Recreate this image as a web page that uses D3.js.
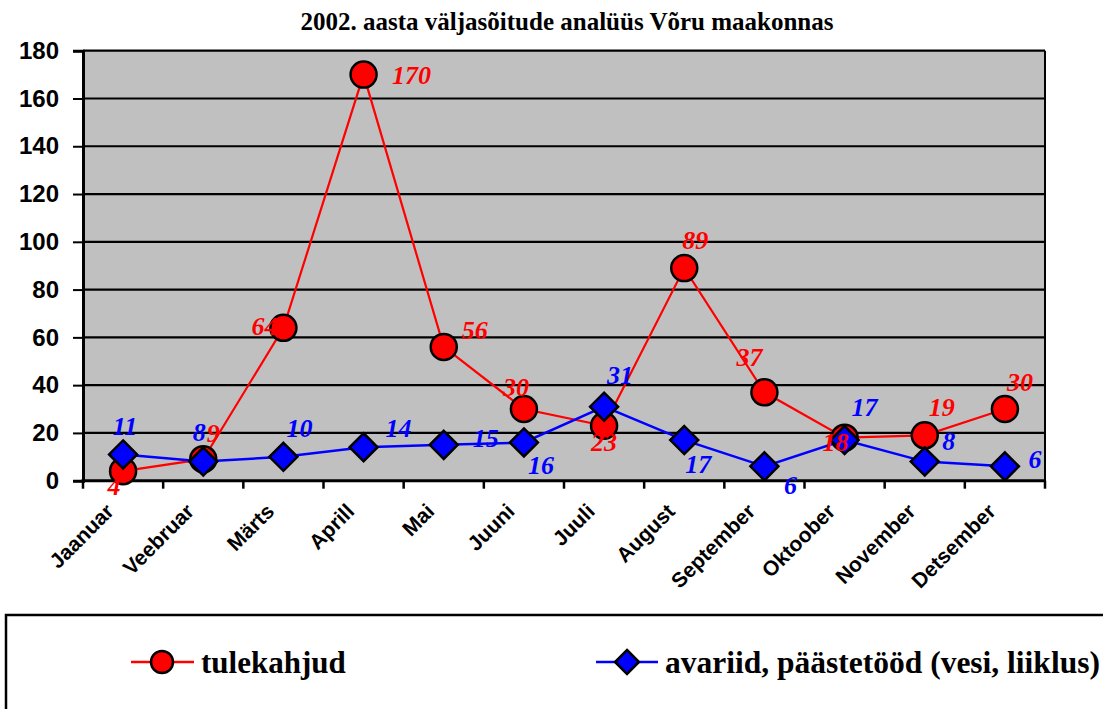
<!DOCTYPE html>
<html>
<head>
<meta charset="utf-8">
<script src="https://cdn.jsdelivr.net/npm/d3@7"></script>
<style>
html,body{margin:0;padding:0;background:#fff;overflow:hidden;}
svg{display:block;}
</style>
</head>
<body>
<svg id="chart" width="1103" height="709"></svg>
<script>
// ---- data ----
const titleText = "2002. aasta väljasõitude analüüs Võru maakonnas";
const months = ["Jaanuar","Veebruar","Märts","Aprill","Mai","Juuni","Juuli","August","September","Oktoober","November","Detsember"];
const fireName = "tulekahjud";
const fireValues = [4, 9, 64, 170, 56, 30, 23, 89, 37, 18, 19, 30];
const rescueName = "avariid, päästetööd (vesi, liiklus)";
const rescueValues = [11, 8, 10, 14, 15, 16, 31, 17, 6, 17, 8, 6];
const yTicks = [0, 20, 40, 60, 80, 100, 120, 140, 160, 180];

// label placement offsets (layout only)
const fireLabelOffsets = [[-9,15],[10,-26],[-19,-2],[48,1],[31,-17],[-8,-22],[0,16],[11,-28],[-15,-35],[-9,4],[17,-28],[15,-27]];
const rescueLabelOffsets = [[2,-28],[-4,-29],[16,-29],[35,-19],[42,-7],[17,23],[16,-31],[14,24],[26,19],[20,-33],[24,-20],[30,-7]];

const svg = d3.select("#chart");
const L = 83, R = 1045, T = 50.7, B = 480.7;

const x = d3.scaleBand().domain(months).range([L, R]);
const y = d3.scaleLinear().domain([0, 180]).range([B, T]);
const cx = m => x(m) + x.bandwidth() / 2;

// title
svg.append("text").attr("x", 567).attr("y", 30).attr("text-anchor", "middle")
  .attr("font-family", "Liberation Serif, Times New Roman, serif").attr("font-weight", "bold")
  .attr("font-size", 25).text(titleText);

// plot background
svg.append("rect").attr("x", L).attr("y", T).attr("width", R - L).attr("height", B - T).attr("fill", "#C0C0C0");

// gridlines
svg.append("g").selectAll("line").data(yTicks.filter(d => d > 0)).join("line")
  .attr("x1", L).attr("x2", R).attr("y1", d => y(d)).attr("y2", d => y(d))
  .attr("stroke", "#000").attr("stroke-width", 2.2);

// right border
svg.append("line").attr("x1", R).attr("x2", R).attr("y1", T).attr("y2", B).attr("stroke", "#000").attr("stroke-width", 2);

// y axis
const yAxis = d3.axisLeft(y).tickValues(yTicks).tickSize(10).tickPadding(14);
const gy = svg.append("g").attr("transform", `translate(${L},0)`).call(yAxis);
gy.select(".domain").attr("stroke", "#000").attr("stroke-width", 3);
gy.selectAll(".tick line").attr("stroke", "#000").attr("stroke-width", 2);
gy.selectAll(".tick text").attr("font-family", "Liberation Sans, Arial, sans-serif")
  .attr("font-weight", "bold").attr("font-size", 24).attr("fill", "#000");

// x axis: ticks at category boundaries
const boundaries = d3.range(months.length + 1).map(i => L + i * x.step());
svg.append("g").selectAll("line").data(boundaries).join("line")
  .attr("x1", d => d).attr("x2", d => d).attr("y1", B).attr("y2", B + 8)
  .attr("stroke", "#000").attr("stroke-width", 2.5);
svg.append("line").attr("x1", L - 1.5).attr("x2", R + 1).attr("y1", B).attr("y2", B)
  .attr("stroke", "#000").attr("stroke-width", 3);
svg.append("g").selectAll("text").data(months).join("text")
  .attr("transform", d => `translate(${cx(d) - 8},${B + 32}) rotate(-45)`)
  .attr("text-anchor", "end")
  .attr("font-family", "Liberation Sans, Arial, sans-serif").attr("font-weight", "bold")
  .attr("font-size", 21).attr("fill", "#000").text(d => d);

// lines
const line = d3.line().x((d, i) => cx(months[i])).y(d => y(d));
svg.append("path").datum(fireValues).attr("d", line).attr("fill", "none").attr("stroke", "#FF0000").attr("stroke-width", 2.2);
svg.append("path").datum(rescueValues).attr("d", line).attr("fill", "none").attr("stroke", "#0000FF").attr("stroke-width", 2.5);

// markers
svg.append("g").selectAll("circle").data(fireValues).join("circle")
  .attr("cx", (d, i) => cx(months[i])).attr("cy", d => y(d)).attr("r", 13)
  .attr("fill", "#FF0000").attr("stroke", "#000").attr("stroke-width", 2.5);
const diamond = (px, py, s) => `M${px},${py - s}L${px + s},${py}L${px},${py + s}L${px - s},${py}Z`;
svg.append("g").selectAll("path").data(rescueValues).join("path")
  .attr("d", (d, i) => diamond(cx(months[i]), y(d), 14))
  .attr("fill", "#0000FF").attr("stroke", "#000").attr("stroke-width", 2.5);

// data labels
function labels(values, offsets, color) {
  svg.append("g").selectAll("text").data(values).join("text")
    .attr("x", (d, i) => cx(months[i]) + offsets[i][0])
    .attr("y", (d, i) => y(d) + offsets[i][1])
    .attr("dy", "0.34em").attr("text-anchor", "middle")
    .attr("font-family", "Liberation Serif, Times New Roman, serif")
    .attr("font-weight", "bold").attr("font-style", "italic").attr("font-size", 26)
    .attr("fill", color).text(d => d);
}
labels(fireValues, fireLabelOffsets, "#FF0000");
labels(rescueValues, rescueLabelOffsets, "#0000FF");

// legend
svg.append("rect").attr("x", 6).attr("y", 615).attr("width", 1200).attr("height", 200)
  .attr("fill", "#fff").attr("stroke", "#000").attr("stroke-width", 2.5);
const ly = 662;
svg.append("line").attr("x1", 131).attr("x2", 194).attr("y1", ly).attr("y2", ly).attr("stroke", "#FF0000").attr("stroke-width", 2.5);
svg.append("circle").attr("cx", 162).attr("cy", ly).attr("r", 11).attr("fill", "#FF0000").attr("stroke", "#000").attr("stroke-width", 2.5);
svg.append("text").attr("x", 201).attr("y", ly + 11).attr("font-family", "Liberation Serif, Times New Roman, serif")
  .attr("font-weight", "bold").attr("font-size", 31).text(fireName);
svg.append("line").attr("x1", 596).attr("x2", 658).attr("y1", ly).attr("y2", ly).attr("stroke", "#0000FF").attr("stroke-width", 2.5);
svg.append("path").attr("d", diamond(627, ly, 12)).attr("fill", "#0000FF").attr("stroke", "#000").attr("stroke-width", 2.5);
svg.append("text").attr("x", 665).attr("y", ly + 11).attr("font-family", "Liberation Serif, Times New Roman, serif")
  .attr("font-weight", "bold").attr("font-size", 31.5).text(rescueName);
</script>
</body>
</html>
